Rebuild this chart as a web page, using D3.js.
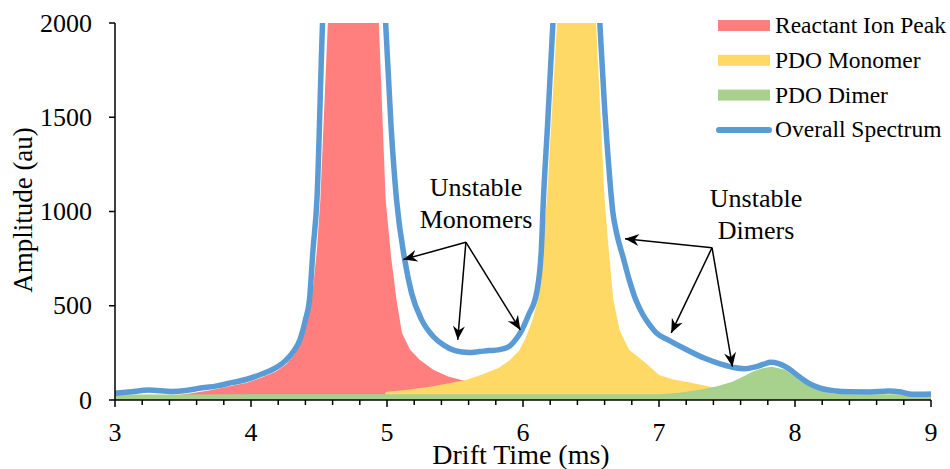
<!DOCTYPE html>
<html>
<head>
<meta charset="utf-8">
<script src="https://cdn.jsdelivr.net/npm/d3@7/dist/d3.min.js"></script>
<style>
  html, body { margin: 0; padding: 0; background: #fff; }
  text { font-family: "Liberation Serif", "Times New Roman", serif; fill: #000; }
</style>
</head>
<body>
<svg id="chart" width="950" height="469"></svg>
<script>
// ---- Data ----
const xTicks = [3, 4, 5, 6, 7, 8, 9];
const yTicks = [0, 500, 1000, 1500, 2000];

const overallT = [3.00,3.10,3.25,3.42,3.52,3.62,3.75,3.86,3.97,4.08,4.18,4.26,4.32,4.36,4.40,4.43,4.456,4.485,4.526,4.60,4.75,4.90,4.99,5.03,5.07,5.13,5.18,5.255,5.34,5.42,5.50,5.60,5.68,5.75,5.82,5.90,5.94,5.98,6.04,6.10,6.135,6.15,6.18,6.22,6.30,6.40,6.50,6.565,6.60,6.635,6.66,6.69,6.735,6.78,6.83,6.88,6.93,6.98,7.07,7.20,7.34,7.45,7.55,7.63,7.71,7.77,7.82,7.88,7.93,8.03,8.10,8.18,8.30,8.40,8.55,8.69,8.78,8.86,9.00];
const overallV = [36,42,53,45,50,62,75,92,110,138,170,213,265,320,425,532,798,1064,2000,2900,3200,2900,2000,1450,1064,745,569,425,337,290,262,252,257,262,266,285,315,356,450,569,800,1064,1450,2000,2900,3200,2900,2000,1550,1200,1000,880,760,640,530,455,400,356,318,268,220,192,172,166,176,190,200,193,177,124,90,64,48,44,43,48,42,30,32];

const reactantT = [3.00,3.40,3.55,3.70,3.86,3.97,4.08,4.18,4.26,4.32,4.36,4.40,4.43,4.46,4.485,4.51,4.565,4.65,4.75,4.85,4.94,4.99,5.03,5.07,5.11,5.17,5.24,5.34,5.45,5.56,5.70,5.85,6.00,6.20,6.40];
const reactantV = [0,20,35,52,75,92,120,150,190,240,290,370,480,620,800,1064,2000,2700,3000,2700,2000,1064,760,532,356,266,213,160,125,104,78,56,40,25,0];

const monomerT = [4.98,4.99,5.15,5.33,5.58,5.70,5.82,5.90,5.97,6.02,6.07,6.11,6.176,6.25,6.30,6.38,6.46,6.537,6.60,6.63,6.664,6.71,6.78,6.90,7.00,7.10,7.20,7.39,7.52,7.65,7.80,8.00,8.20];
const monomerV = [0,42,55,71,106,135,170,210,260,330,425,532,1064,2000,2700,3000,2700,2000,1064,800,532,372,266,197,133,110,97,69,58,45,35,25,0];

const dimerT = [3.0,3.5,4.0,5.0,6.0,7.0,7.15,7.29,7.42,7.54,7.62,7.69,7.76,7.83,7.93,8.03,8.10,8.18,8.27,8.40,9.0];
const dimerV = [29,29,30,30,30,31,38,53,72,97,125,151,168,177,160,106,75,53,36,31,30];

const seriesNames = ["Reactant Ion Peak", "PDO Monomer", "PDO Dimer", "Overall Spectrum"];
const seriesColors = ["#FF7F7F", "#FFD966", "#A9D18E", "#5B9BD5"];

// annotations (data coords)
const annoMonomerText = ["Unstable", "Monomers"];
const annoDimerText = ["Unstable", "Dimers"];
const monomerArrowFrom = [5.58, 837];
const monomerArrowTo = [[5.12, 745], [5.52, 319], [5.98, 372]];
const dimerArrowFrom = [7.39, 808];
const dimerArrowTo = [[6.75, 856], [7.09, 356], [7.54, 177]];

// ---- Chart ----
const svg = d3.select("#chart");
const x = d3.scaleLinear().domain([3, 9]).range([115, 931]);
const y = d3.scaleLinear().domain([0, 2000]).range([400, 23]);

const defs = svg.append("defs");
defs.append("clipPath").attr("id", "plotclip")
  .append("rect").attr("x", 100).attr("y", 23).attr("width", 850).attr("height", 380);
defs.append("marker").attr("id", "arrow")
  .attr("viewBox", "-15 -7 17 14").attr("refX", 0).attr("refY", 0)
  .attr("markerWidth", 17).attr("markerHeight", 14)
  .attr("markerUnits", "userSpaceOnUse").attr("orient", "auto")
  .append("path").attr("d", "M0,0 L-14,-6 L-9.5,0 L-14,6 Z").attr("fill", "#000");

const zip = (t, v) => t.map((d, i) => [d, v[i]]);
const area = d3.area().x(d => x(d[0])).y0(y(0)).y1(d => y(d[1])).curve(d3.curveLinear);
const plot = svg.append("g").attr("clip-path", "url(#plotclip)");

plot.append("path").datum(zip(reactantT, reactantV)).attr("d", area).attr("fill", seriesColors[0]);
plot.append("path").datum(zip(monomerT, monomerV)).attr("d", area).attr("fill", seriesColors[1]);
plot.append("path").datum(zip(dimerT, dimerV)).attr("d", area).attr("fill", seriesColors[2]);

const line = d3.line().x(d => x(d[0])).y(d => y(d[1])).curve(d3.curveMonotoneX);
plot.append("path").datum(zip(overallT, overallV)).attr("d", line)
  .attr("fill", "none").attr("stroke", seriesColors[3]).attr("stroke-width", 5.5)
  .attr("stroke-linejoin", "round");

// Axes
const xAxisG = svg.append("g");
xAxisG.append("line").attr("x1", x(3)).attr("x2", x(9)).attr("y1", y(0)).attr("y2", y(0))
  .attr("stroke", "#000").attr("stroke-width", 1.5);
const minorX = d3.range(3, 9.0001, 0.2);
xAxisG.selectAll("line.minor").data(minorX).enter().append("line")
  .attr("x1", d => x(d)).attr("x2", d => x(d))
  .attr("y1", y(0)).attr("y2", d => Math.abs(d - Math.round(d)) < 1e-6 ? y(0) + 7 : y(0) + 5)
  .attr("stroke", "#000").attr("stroke-width", 1.5);
xAxisG.selectAll("text").data(xTicks).enter().append("text")
  .attr("x", d => x(d)).attr("y", 441).attr("text-anchor", "middle")
  .attr("font-size", 26).text(d => d);

const yAxisG = svg.append("g");
yAxisG.append("line").attr("x1", x(3)).attr("x2", x(3)).attr("y1", y(0)).attr("y2", y(2000))
  .attr("stroke", "#000").attr("stroke-width", 1.5);
yAxisG.selectAll("line.tick").data(yTicks).enter().append("line")
  .attr("x1", x(3) - 6).attr("x2", x(3)).attr("y1", d => y(d)).attr("y2", d => y(d))
  .attr("stroke", "#000").attr("stroke-width", 1.5);
yAxisG.selectAll("text").data(yTicks).enter().append("text")
  .attr("x", 92).attr("y", d => y(d) + 8.5).attr("text-anchor", "end")
  .attr("font-size", 26).text(d => d);

svg.append("text").attr("x", 521).attr("y", 464).attr("text-anchor", "middle")
  .attr("font-size", 28).text("Drift Time (ms)");
svg.append("text").attr("transform", "translate(32,210) rotate(-90)")
  .attr("text-anchor", "middle").attr("font-size", 27).text("Amplitude (au)");

// Annotations
function annotate(lines, cx, baseY, from, tos) {
  lines.forEach((t, i) => svg.append("text").attr("x", cx).attr("y", baseY + i * 32)
    .attr("text-anchor", "middle").attr("font-size", 26).text(t));
  tos.forEach(t => svg.append("line")
    .attr("x1", x(from[0])).attr("y1", y(from[1]))
    .attr("x2", x(t[0])).attr("y2", y(t[1]))
    .attr("stroke", "#000").attr("stroke-width", 1.5).attr("marker-end", "url(#arrow)"));
}
annotate(annoMonomerText, 476, 196, monomerArrowFrom, monomerArrowTo);
annotate(annoDimerText, 756, 207, dimerArrowFrom, dimerArrowTo);

// Legend
const legend = svg.append("g");
seriesNames.forEach((name, i) => {
  const cy = 25.5 + i * 34.8;
  if (i < 3) {
    legend.append("rect").attr("x", 718).attr("y", cy - 5.5).attr("width", 52).attr("height", 11)
      .attr("fill", seriesColors[i]);
  } else {
    legend.append("line").attr("x1", 719).attr("x2", 769).attr("y1", cy).attr("y2", cy)
      .attr("stroke", seriesColors[i]).attr("stroke-width", 6).attr("stroke-linecap", "round");
  }
  legend.append("text").attr("x", 775).attr("y", cy + 7.5).attr("font-size", 23.5).text(name);
});
</script>
</body>
</html>
